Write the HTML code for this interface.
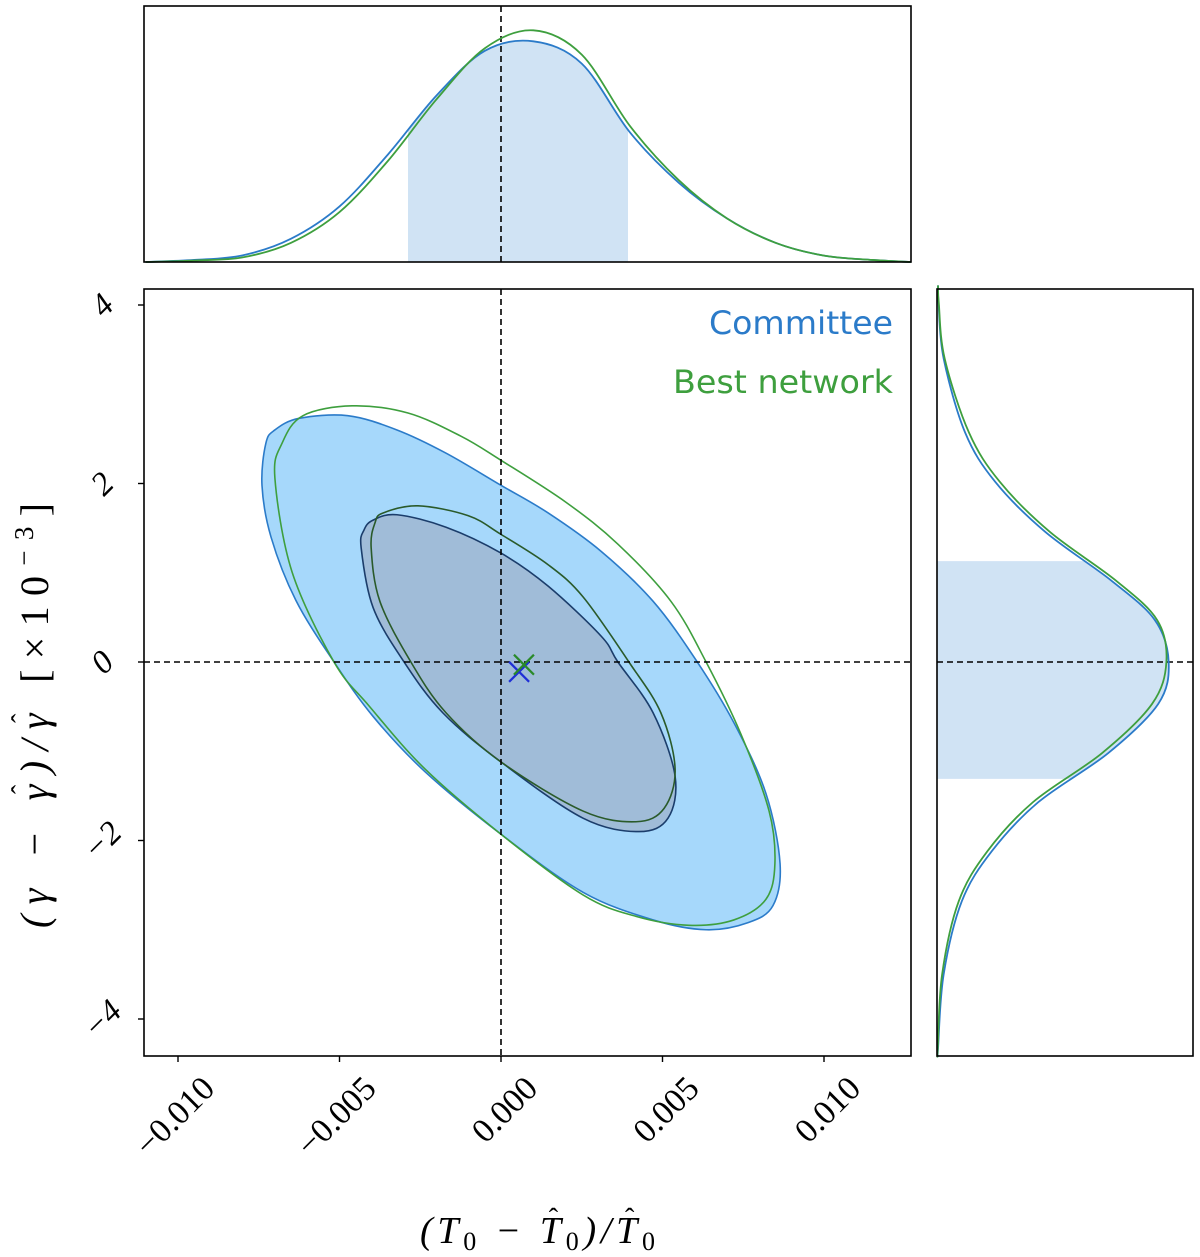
<!DOCTYPE html>
<html><head><meta charset="utf-8"><style>
html,body{margin:0;padding:0;background:#fff;}
svg{display:block;}
text{font-family:"Liberation Serif",serif;}
text.sans{font-family:"DejaVu Sans","Liberation Sans",sans-serif;}
</style></head><body>
<svg id="chart" width="1200" height="1257" viewBox="0 0 1200 1257" xmlns="http://www.w3.org/2000/svg">
<defs>
<clipPath id="clipMain"><rect x="144" y="289" width="767" height="767"/></clipPath>
<clipPath id="clipTopShade"><rect id="topShadeRect" x="0" y="0" width="0" height="300"/></clipPath>
<clipPath id="clipRightShade"><rect id="rightShadeRect" x="930" y="0" width="270" height="0"/></clipPath>
</defs>
<g id="layer"></g>
</svg>
<script>
// ---------- data (x in units of 1e-3 relative T0, y in units of 1e-3 relative gamma) ----------
const xTicks = [-10, -5, 0, 5, 10];
const xTickLabels = ["\u22120.010", "\u22120.005", "0.000", "0.005", "0.010"];
const yTicks = [4, 2, 0, -2, -4];
const yTickLabels = ["4", "2", "0", "\u22122", "\u22124"];

const committeeOuterX = [-7.00,-6.25,-4.74,-3.22,-1.70,0,1.46,3.10,4.71,6.04,7.21,8.20,8.64,8.42,7.65,6.35,4.71,2.54,0,-2.35,-3.96,-5.17,-6.35,-7.12,-7.40,-7.28];
const committeeOuterY = [2.60,2.73,2.76,2.60,2.34,1.98,1.67,1.24,0.68,0.02,-0.68,-1.47,-2.26,-2.73,-2.92,-3.00,-2.89,-2.58,-1.93,-1.23,-0.61,0,0.69,1.40,1.98,2.45];
const bestOuterX = [-6.13,-4.61,-2.88,-1.24,0,2.01,3.62,5.26,6.35,7.43,8.30,8.48,8.20,7.21,5.82,4.18,2.54,0,-2.35,-4.09,-5.17,-6.47,-7.00,-6.78];
const bestOuterY = [2.76,2.87,2.79,2.53,2.26,1.79,1.32,0.68,0,-0.81,-1.67,-2.26,-2.66,-2.89,-2.95,-2.85,-2.61,-1.93,-1.20,-0.49,0,1.01,2.06,2.45];
const committeeInnerX = [-3.96,-3.22,-1.70,0,1.46,3.10,3.62,4.71,5.39,5.17,4.27,2.54,0,-1.80,-3.00,-3.96,-4.33,-4.24];
const committeeInnerY = [1.59,1.65,1.51,1.22,0.85,0.29,0,-0.57,-1.28,-1.75,-1.90,-1.75,-1.12,-0.57,0,0.61,1.28,1.48];
const bestInnerX = [-3.65,-2.57,-1.02,0,1.46,2.54,3.96,4.95,5.39,5.05,4.18,2.54,0,-1.70,-2.79,-3.75,-4.02,-3.90];
const bestInnerY = [1.67,1.75,1.64,1.43,1.09,0.73,0,-0.57,-1.20,-1.64,-1.79,-1.67,-1.12,-0.57,0,0.68,1.28,1.56];
const committeeMarker = [0.56, -0.11];
const bestMarker = [0.71, -0.03];

const topCommitteeX = [-11,-9.5,-8,-6.5,-5,-3.5,-2,-0.5,1,2.5,4,5.5,7,8.5,10,11.5,12.69];
const topCommitteeH = [0,0.008,0.026,0.091,0.217,0.42,0.65,0.825,0.862,0.775,0.505,0.31,0.17,0.075,0.025,0.008,0];
const topBestX = [-11,-9.5,-8,-6.5,-5,-3.5,-2,-0.5,1,2.5,4,5.5,7,8.5,10,11.5,12.69];
const topBestH = [0,0.006,0.018,0.075,0.195,0.395,0.635,0.835,0.905,0.81,0.53,0.32,0.17,0.075,0.025,0.008,0];
const topShade = [-2.88, 3.93];

const rightCommitteeY = [4.22,4.02,3.40,2.57,2.02,1.46,0.91,0.47,0,-0.47,-1.02,-1.57,-2.12,-2.68,-3.50,-4.33,-4.41];
const rightCommitteeW = [0.004,0.006,0.026,0.11,0.227,0.422,0.682,0.851,0.905,0.864,0.669,0.396,0.214,0.097,0.026,0.004,0.003];
const rightBestY = [4.22,4.02,3.40,2.57,2.02,1.46,0.91,0.47,0,-0.47,-1.02,-1.57,-2.12,-2.68,-3.50,-4.33,-4.41];
const rightBestW = [0.004,0.007,0.03,0.125,0.245,0.44,0.70,0.86,0.896,0.84,0.645,0.375,0.197,0.085,0.02,0.003,0.002];
const rightShade = [1.13, -1.31];

// ---------- axes ----------
const X0=144, X1=911, Y0=289, Y1=1056;
const TX0=6, TX1=262;
const RX0=937, RX1=1193;
const sx = v => 501 + v*32.3;
const sy = v => 662 - v*89.25;
const sTop = h => TX1 - h*(TX1-TX0);
const sRight = w => RX0 + w*(RX1-RX0);

const NS="http://www.w3.org/2000/svg";
const layer=document.getElementById('layer');
function mk(tag, attrs, parent){const e=document.createElementNS(NS,tag);for(const k in attrs)e.setAttribute(k,attrs[k]);(parent||layer).appendChild(e);return e;}

function smoothClosed(pts){
  let d=`M${pts[0][0]},${pts[0][1]}`;const n=pts.length;
  for(let i=0;i<n;i++){const p0=pts[(i-1+n)%n],p1=pts[i],p2=pts[(i+1)%n],p3=pts[(i+2)%n];
    d+=` C${p1[0]+(p2[0]-p0[0])/6},${p1[1]+(p2[1]-p0[1])/6} ${p2[0]-(p3[0]-p1[0])/6},${p2[1]-(p3[1]-p1[1])/6} ${p2[0]},${p2[1]}`;}
  return d+'Z';
}
function smoothOpen(pts){
  let d=`M${pts[0][0]},${pts[0][1]}`;const n=pts.length;
  for(let i=0;i<n-1;i++){const p0=pts[Math.max(i-1,0)],p1=pts[i],p2=pts[i+1],p3=pts[Math.min(i+2,n-1)];
    d+=` C${p1[0]+(p2[0]-p0[0])/6},${p1[1]+(p2[1]-p0[1])/6} ${p2[0]-(p3[0]-p1[0])/6},${p2[1]-(p3[1]-p1[1])/6} ${p2[0]},${p2[1]}`;}
  return d;
}
const contourPts=(xs,ys)=>xs.map((v,i)=>[sx(v),sy(ys[i])]);

// ---------- main panel ----------
const gMain=mk('g',{'clip-path':'url(#clipMain)'});


let e;
e=mk('path',{d:smoothClosed(contourPts(committeeOuterX,committeeOuterY)),fill:'#a6d8fb',stroke:'#2b7bc9','stroke-width':1.6},gMain);

e=mk('path',{d:smoothClosed(contourPts(committeeInnerX,committeeInnerY)),fill:'#a0bcd8',stroke:'#1b3d6b','stroke-width':1.6},gMain);

e=mk('path',{d:smoothClosed(contourPts(bestOuterX,bestOuterY)),fill:'none',stroke:'#3e9f3e','stroke-width':1.6},gMain);

e=mk('path',{d:smoothClosed(contourPts(bestInnerX,bestInnerY)),fill:'none',stroke:'#2a5a2a','stroke-width':1.6},gMain);

e=mk('line',{x1:sx(0),x2:sx(0),y1:Y0,y2:Y1,stroke:'#000','stroke-width':1.6,'stroke-dasharray':'6,4'},gMain);

e=mk('line',{x1:X0,x2:X1,y1:sy(0),y2:sy(0),stroke:'#000','stroke-width':1.6,'stroke-dasharray':'6,4'},gMain);

function cross(c,col,name){const g=mk('g',{stroke:col,'stroke-width':2.2},gMain);
  
  const x=sx(c[0]),y=sy(c[1]);mk('line',{x1:x-10,y1:y-10,x2:x+10,y2:y+10},g);mk('line',{x1:x-10,y1:y+10,x2:x+10,y2:y-10},g);}
cross(committeeMarker,'#1f2fd6','committee-marker');
cross(bestMarker,'#2a8a2a','best-network-marker');
e=mk('rect',{x:X0,y:Y0,width:X1-X0,height:Y1-Y0,fill:'none',stroke:'#000','stroke-width':1.6});


xTicks.forEach((t,i)=>{const x=sx(t);
  e=mk('line',{x1:x,x2:x,y1:Y1,y2:Y1+6,stroke:'#000','stroke-width':1.4});
  
  e=mk('text',{x:x+22,y:Y1+18,'font-size':34,'text-anchor':'end',transform:`rotate(-45 ${x+22} ${Y1+18})`,'dominant-baseline':'hanging'});
  e.textContent=xTickLabels[i];
  
});
yTicks.forEach((t,i)=>{const y=sy(t);
  e=mk('line',{x1:X0-6,x2:X0,y1:y,y2:y,stroke:'#000','stroke-width':1.4});
  
  e=mk('text',{x:X0-42,y:y+11,'font-size':33,'text-anchor':'middle','font-style':'italic',transform:`rotate(-45 ${X0-42} ${y})`});
  e.textContent=yTickLabels[i];
  
});

e=mk('text',{class:'sans',x:893,y:334,'font-size':32,'text-anchor':'end',fill:'#2b7bc9',textLength:184,lengthAdjust:'spacingAndGlyphs'});
e.textContent='Committee';
e=mk('text',{class:'sans',x:893,y:393,'font-size':32,'text-anchor':'end',fill:'#3e9f3e',textLength:220,lengthAdjust:'spacingAndGlyphs'});
e.textContent='Best network';

// ---------- axis titles with manually placed hats ----------
function addHats(textEl, parent, idxs){
  idxs.forEach(i=>{let ext;try{ext=textEl.getExtentOfChar(i);}catch(err){return;}
    const h=mk('text',{x:ext.x+ext.width/2+3,y:ext.y+ext.height*0.42,'font-size':28,'text-anchor':'middle'},parent);
    h.textContent='\u02c6';
    
  });
}
const gx=mk('g',{transform:'translate(420 1243)'});

const xt=mk('text',{x:0,y:0,'font-size':38,'font-style':'italic',textLength:235,lengthAdjust:'spacing'},gx);
xt.innerHTML='(T<tspan font-size="26" dy="7" font-style="normal">0</tspan><tspan dy="-7"> \u2212 T</tspan><tspan font-size="26" dy="7" font-style="normal">0</tspan><tspan dy="-7">)/T</tspan><tspan font-size="26" dy="7" font-style="normal">0</tspan>';
addHats(xt,gx,[6,10]);

const gy=mk('g',{transform:'translate(48 928) rotate(-90)'});

const yt=mk('text',{x:0,y:0,'font-size':40,'font-style':'italic',textLength:425,lengthAdjust:'spacing'},gy);
yt.innerHTML='(\u03b3 \u2212 \u03b3)/\u03b3 <tspan font-style="normal">[\u00d710</tspan><tspan font-size="27" dy="-15" font-style="normal">\u22123</tspan><tspan dy="15" font-style="normal">]</tspan>';
addHats(yt,gy,[5,8]);

// ---------- top marginal ----------
const topC=topCommitteeX.map((v,i)=>[sx(v),sTop(topCommitteeH[i])]);
const topB=topBestX.map((v,i)=>[sx(v),sTop(topBestH[i])]);
const tr=document.getElementById('topShadeRect');tr.setAttribute('x',sx(topShade[0]));tr.setAttribute('width',sx(topShade[1])-sx(topShade[0]));
e=mk('path',{d:smoothOpen(topC)+` L${sx(topCommitteeX[topCommitteeX.length-1])},${TX1} L${sx(topCommitteeX[0])},${TX1}Z`,fill:'#d0e3f4','clip-path':'url(#clipTopShade)'});

e=mk('line',{x1:sx(0),x2:sx(0),y1:TX0,y2:TX1,stroke:'#000','stroke-width':1.6,'stroke-dasharray':'6,4'});

e=mk('path',{d:smoothOpen(topC),fill:'none',stroke:'#2b7bc9','stroke-width':1.8});

e=mk('path',{d:smoothOpen(topB),fill:'none',stroke:'#3e9f3e','stroke-width':1.8});

e=mk('rect',{x:X0,y:TX0,width:X1-X0,height:TX1-TX0,fill:'none',stroke:'#000','stroke-width':1.6});


// ---------- right marginal ----------
const rC=rightCommitteeY.map((v,i)=>[sRight(rightCommitteeW[i]),sy(v)]);
const rB=rightBestY.map((v,i)=>[sRight(rightBestW[i]),sy(v)]);
const rr=document.getElementById('rightShadeRect');rr.setAttribute('y',sy(rightShade[0]));rr.setAttribute('height',sy(rightShade[1])-sy(rightShade[0]));
e=mk('path',{d:smoothOpen(rC)+` L${RX0},${sy(rightCommitteeY[rightCommitteeY.length-1])} L${RX0},${sy(rightCommitteeY[0])}Z`,fill:'#d0e3f4','clip-path':'url(#clipRightShade)'});

e=mk('line',{x1:RX0,x2:RX1,y1:sy(0),y2:sy(0),stroke:'#000','stroke-width':1.6,'stroke-dasharray':'6,4'});

e=mk('path',{d:smoothOpen(rC),fill:'none',stroke:'#2b7bc9','stroke-width':1.8});

e=mk('path',{d:smoothOpen(rB),fill:'none',stroke:'#3e9f3e','stroke-width':1.8});

e=mk('rect',{x:RX0,y:Y0,width:RX1-RX0,height:Y1-Y0,fill:'none',stroke:'#000','stroke-width':1.6});

</script>
</body></html>
